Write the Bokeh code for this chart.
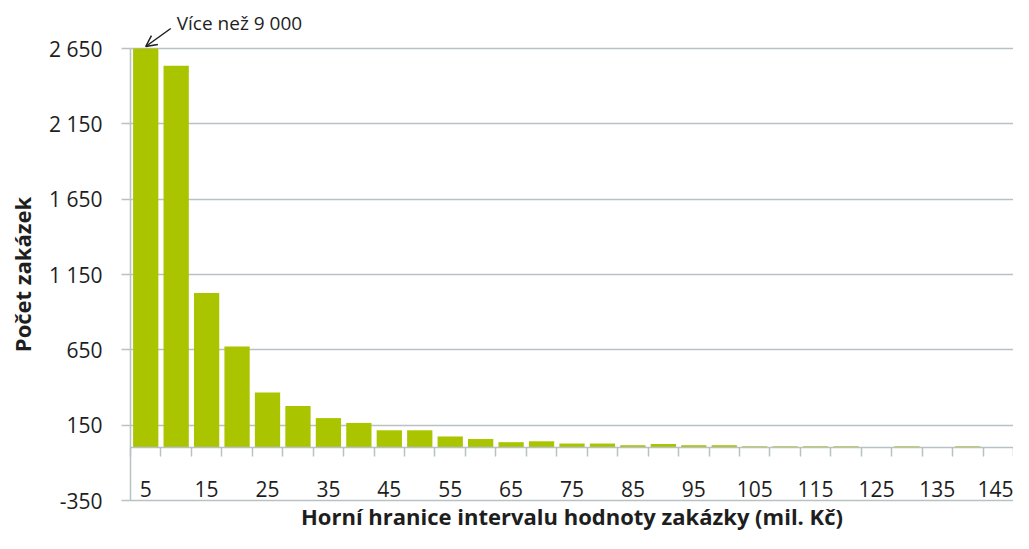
import math
from bokeh.plotting import figure
from bokeh.models import (FixedTicker, LinearAxis, Range1d, Label, Arrow,
                          OpenHead, ColumnDataSource, Grid)
from bokeh.embed import file_html
from bokeh.resources import INLINE

# ---- data ----
categories = [5, 10, 15, 20, 25, 30, 35, 40, 45, 50, 55, 60, 65, 70, 75,
              80, 85, 90, 95, 100, 105, 110, 115, 120, 125, 130, 135, 140, 145]
counts = [9100, 2535, 1028, 672, 366, 278, 197, 165, 116, 116, 75, 58, 37, 43, 28,
          28, 17, 25, 17, 17, 10, 10, 10, 10, 0, 10, 0, 10, 0]
x_tick_labels = [5, 15, 25, 35, 45, 55, 65, 75, 85, 95, 105, 115, 125, 135, 145]
y_ticks = [-350, 150, 650, 1150, 1650, 2150, 2650]
note_text = "Více než 9 000"
x_title = "Horní hranice intervalu hodnoty zakázky (mil. Kč)"
y_title = "Počet zakázek"

# ---- layout (pixels) ----
W, H = 1013, 533
PLOT_L, PLOT_R, PLOT_T, PLOT_B = 130, 1013, 48, 500

# ---- styling ----
FONT = "Open Sans"
TXT = "#1e1e1e"
GRID = "#b9c1c5"
BAR = "#abc400"
step = categories[1] - categories[0]
x_min = categories[0] - step / 2
x_max = categories[-1] + step / 2
y_min, y_max = y_ticks[0], y_ticks[-1]

ppx = (PLOT_R - PLOT_L) / (x_max - x_min)
ppy = (PLOT_B - PLOT_T) / (y_max - y_min)
x_left = x_min - PLOT_L / ppx
x_right = x_max + (W - PLOT_R) / ppx
y_top = y_max + PLOT_T / ppy
y_bottom = y_min - (H - PLOT_B) / ppy

# values above the axis are cut at the axis top, as in the original
bar_top = [min(v, y_max) for v in counts]

def fmt(v):
    s = f"{abs(v):,}".replace(",", "\u00a0")
    return ("-" if v < 0 else "") + s

p = figure(width=W, height=H,
           x_range=Range1d(x_left, x_right), y_range=Range1d(y_bottom, y_top),
           output_backend="svg", toolbar_location=None,
           x_axis_location=None, y_axis_location=None, min_border=0)
p.outline_line_color = None
p.background_fill_color = "white"
p.border_fill_color = "white"
p.grid.visible = False

p.add_layout(Grid(dimension=1, ticker=FixedTicker(ticks=y_ticks),
                  cross_bounds=(x_min, x_max), grid_line_color=GRID,
                  grid_line_width=1.5))

src = ColumnDataSource(dict(x=categories, top=bar_top, count=counts))
p.vbar(x="x", top="top", bottom=0, width=step * 0.83, source=src,
       fill_color=BAR, line_color=None)

# y axis
ya = LinearAxis(ticker=FixedTicker(ticks=y_ticks), fixed_location=x_min,
                bounds=(y_min, y_max),
                major_label_overrides={t: fmt(t) for t in y_ticks},
                axis_line_color=GRID, axis_line_width=1.5,
                major_tick_line_color=GRID, major_tick_line_width=1.5,
                major_tick_out=9, major_tick_in=0, minor_tick_line_color=None,
                major_label_standoff=19,
                major_label_text_font=FONT, major_label_text_font_size="21px",
                major_label_text_color=TXT)
p.add_layout(ya, "left")

# category axis at zero: labels at the odd bars, ticks between the bars
bounds = [c - step / 2 for c in categories] + [categories[-1] + step / 2]
ax0 = LinearAxis(ticker=FixedTicker(ticks=x_tick_labels, minor_ticks=bounds),
                 fixed_location=0, bounds=(x_min, x_max),
                 axis_line_color=GRID, axis_line_width=1.5,
                 major_tick_line_color=None, major_tick_out=0, major_tick_in=0,
                 minor_tick_line_color=GRID, minor_tick_line_width=1.5,
                 minor_tick_out=9, minor_tick_in=0,
                 major_label_standoff=24,
                 major_label_text_font=FONT, major_label_text_font_size="21px",
                 major_label_text_color=TXT)
p.add_layout(ax0, "below")

# axis titles
p.add_layout(Label(x=(x_min + x_max) / 2, y=y_min, y_offset=-15,
                   text=x_title, text_font=FONT, text_font_style="bold",
                   text_font_size="22px", text_color=TXT,
                   text_align="center", text_baseline="middle"))
p.add_layout(Label(x=x_left, y=(y_min + y_max) / 2, x_offset=21,
                   angle=math.pi / 2,
                   text=y_title, text_font=FONT, text_font_style="bold",
                   text_font_size="22px", text_color=TXT,
                   text_align="center", text_baseline="middle"))

# annotation for the cut first bar
p.add_layout(Arrow(end=OpenHead(size=11, line_color=TXT, line_width=1.5),
                   x_start=categories[0] + 25 / ppx, y_start=y_max + 20 / ppy,
                   x_end=categories[0], y_end=y_max + 2 / ppy,
                   line_color=TXT, line_width=1.5))
p.add_layout(Label(x=categories[0], y=y_max, x_offset=31, y_offset=26,
                   text=note_text, text_font=FONT, text_font_size="19px",
                   text_color=TXT, text_baseline="middle", text_align="left"))

open("out.html", "w").write(file_html(p, INLINE))
